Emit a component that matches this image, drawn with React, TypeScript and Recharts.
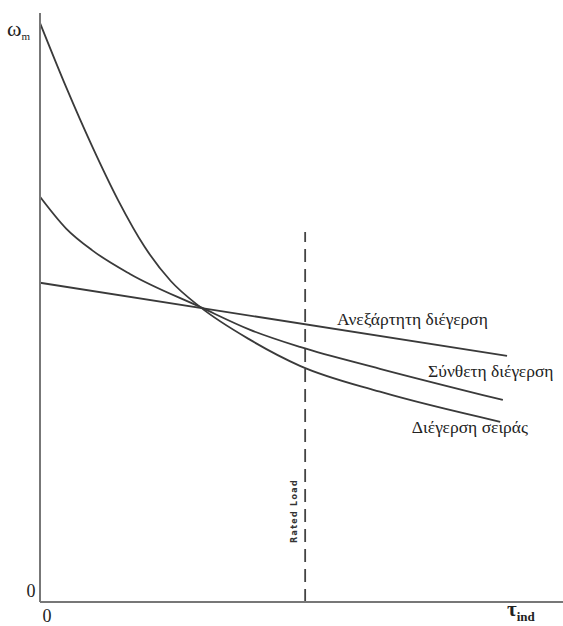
import { LineChart, Line, XAxis, YAxis, ReferenceLine, ReferenceDot, Label } from 'recharts'

// torque (x) / speed (y), 0..100 arbitrary units
const independentTorque = [0, 89.3]
const independentSpeed = [54.2, 41.8]

const compoundTorque = [0, 5, 10, 17.2, 30.6, 40.2, 49.7, 65.0, 88.5]
const compoundSpeed = [68.8, 63.4, 59.7, 55.7, 50.1, 46.2, 43.3, 39.6, 34.3]

const seriesTorque = [0, 5, 10, 15, 20, 25, 30.6, 40.2, 49.7, 65.0, 88.0]
const seriesSpeed = [98.3, 87.4, 77.3, 68.1, 60.3, 54.5, 50.1, 44.5, 40.1, 35.7, 30.6]

const curveNames = ['Ανεξάρτητη διέγερση', 'Σύνθετη διέγερση', 'Διέγερση σειράς']
const ratedLoad = 50.7
const ratedTop = 62.8
const torqueTicks = [0]
const speedTicks = [0]

const toPoints = (xs: number[], ys: number[]) => xs.map((x, i) => ({ x, y: ys[i] }))

const ink = '#3a3a3a'
const textInk = '#222'
const serif = '"Liberation Serif", "DejaVu Serif", serif'

function curveLabel(text: string) {
  return (props: any) => {
    const vb = props.viewBox || {}
    return (
      <text x={vb.x} y={vb.y} fill={textInk} fontSize={17.5} fontFamily={serif}>
        {text}
      </text>
    )
  }
}

export default function App() {
  return (
    <div style={{ position: 'absolute', left: 0, top: 0, width: 563, height: 626, background: '#fff' }}>
      <LineChart width={563} height={626} margin={{ top: 13, right: 0, bottom: 0, left: 0 }}>
        <XAxis
          dataKey="x"
          type="number"
          domain={[0, 100]}
          ticks={torqueTicks}
          height={24}
          tickLine={false}
          axisLine={{ stroke: '#777', strokeWidth: 2 }}
          tick={(p: any) => (
            <text x={p.x + 7} y={622} fill={textInk} fontSize={18} fontFamily={serif} textAnchor="middle">
              {p.payload.value}
            </text>
          )}
        >
          <Label
            content={() => (
              <text x={507} y={616} fill={textInk} fontFamily={serif} fontWeight="bold">
                <tspan fontSize={21}>τ</tspan>
                <tspan fontSize={13} dy={5}>ind</tspan>
              </text>
            )}
          />
        </XAxis>
        <YAxis
          type="number"
          domain={[0, 100]}
          ticks={speedTicks}
          width={40}
          tickLine={false}
          axisLine={{ stroke: '#777', strokeWidth: 2 }}
          tick={(p: any) => (
            <text x={31} y={597} fill={textInk} fontSize={18} fontFamily={serif} textAnchor="middle">
              {p.payload.value}
            </text>
          )}
        >
          <Label
            content={() => (
              <text x={7} y={36} fill={textInk} fontFamily={serif}>
                <tspan fontSize={22}>ω</tspan>
                <tspan fontSize={11} dy={4}>m</tspan>
              </text>
            )}
          />
        </YAxis>
        <ReferenceLine
          segment={[{ x: ratedLoad, y: 0 }, { x: ratedLoad, y: ratedTop }]}
          stroke="#444"
          strokeWidth={1.8}
          strokeDasharray="13 7"
        >
          <Label
            content={() => (
              <text
                x={297}
                y={511}
                transform="rotate(-90 297 511)"
                textAnchor="middle"
                fill="#333"
                fontSize={8}
                fontWeight="bold"
                letterSpacing={1.3}
                fontFamily='"DejaVu Sans", sans-serif'
              >
                Rated Load
              </text>
            )}
          />
        </ReferenceLine>
        <Line
          data={toPoints(independentTorque, independentSpeed)}
          dataKey="y"
          type="linear"
          stroke={ink}
          strokeWidth={1.8}
          dot={false}
          isAnimationActive={false}
        />
        <Line
          data={toPoints(compoundTorque, compoundSpeed)}
          dataKey="y"
          type="monotone"
          stroke={ink}
          strokeWidth={1.8}
          dot={false}
          isAnimationActive={false}
        />
        <Line
          data={toPoints(seriesTorque, seriesSpeed)}
          dataKey="y"
          type="monotone"
          stroke={ink}
          strokeWidth={1.8}
          dot={false}
          isAnimationActive={false}
        />
        <ReferenceDot x={56.8} y={47.0} r={0} stroke="none" label={curveLabel(curveNames[0])} />
        <ReferenceDot x={74.2} y={38.2} r={0} stroke="none" label={curveLabel(curveNames[1])} />
        <ReferenceDot x={71.1} y={28.7} r={0} stroke="none" label={curveLabel(curveNames[2])} />
      </LineChart>
    </div>
  )
}
